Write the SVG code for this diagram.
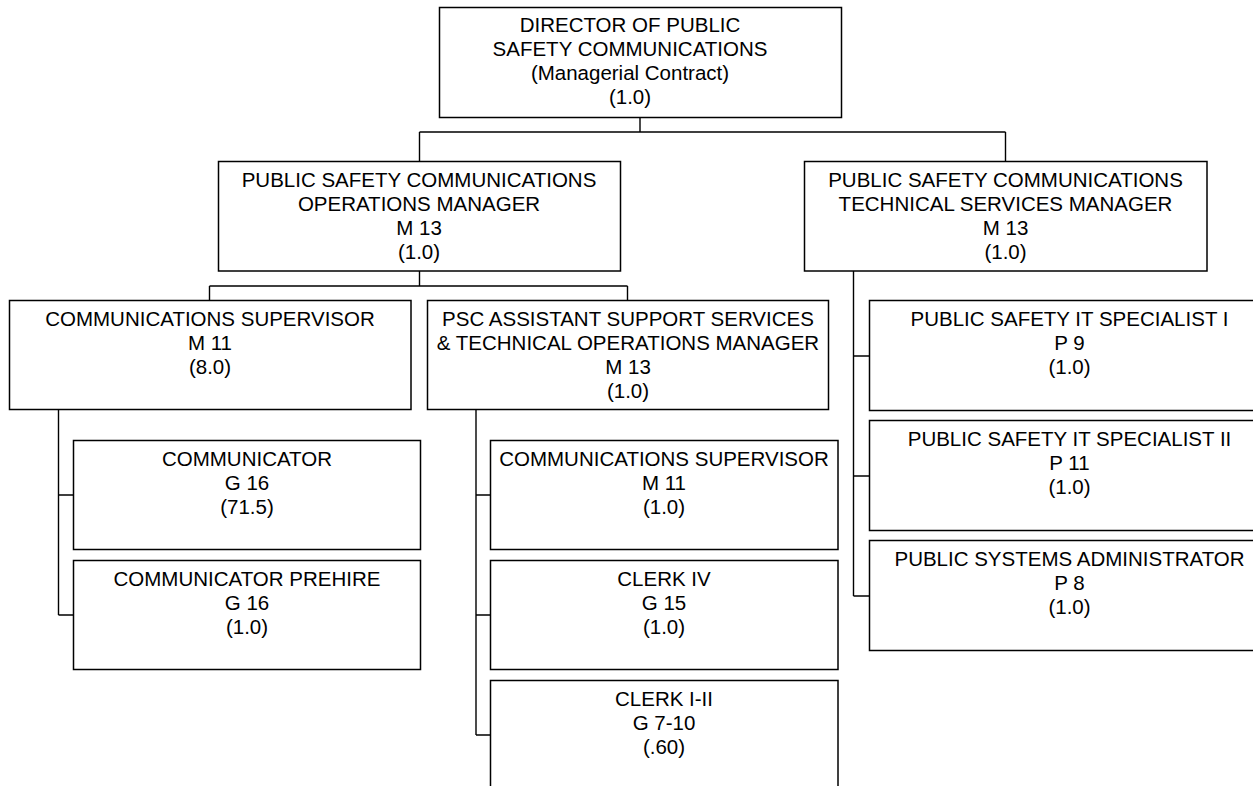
<svg xmlns="http://www.w3.org/2000/svg" width="1253" height="786" viewBox="0 0 1253 786">
<style>
.box{fill:#fff;stroke:#000;stroke-width:1.5}
.ln{fill:none;stroke:#000;stroke-width:1.4}
text{font-family:"Liberation Sans",Arial,sans-serif;font-size:20.5px;fill:#000;text-anchor:middle}
</style>
<rect width="1253" height="786" fill="#fff"/>
<g id="connectors">
<path class="ln" d="M640,117.5V132M419.5,132H1005.5M419.5,132V161.5M1005.5,132V161.5"/>
<path class="ln" d="M419.5,271V286M209.5,286H627.5M209.5,286V300.5M627.5,286V300.5"/>
<path class="ln" d="M853.5,271V596M853.5,356H869.5M853.5,476H869.5M853.5,596H869.5"/>
<path class="ln" d="M58.5,409.5V615M58.5,495H73.5M58.5,615H73.5"/>
<path class="ln" d="M476,409.5V735M476,495H490.5M476,615H490.5M476,735H490.5"/>
</g>
<g id="director">
<rect class="box" x="439.5" y="7.5" width="402" height="110"/>
<text x="630" y="32">DIRECTOR OF PUBLIC</text>
<text x="630" y="56">SAFETY COMMUNICATIONS</text>
<text x="630" y="80">(Managerial Contract)</text>
<text x="630" y="104">(1.0)</text>
</g>
<g id="ops-manager">
<rect class="box" x="218.5" y="161.5" width="402" height="109.5"/>
<text x="419" y="186.5">PUBLIC SAFETY COMMUNICATIONS</text>
<text x="419" y="210.5">OPERATIONS MANAGER</text>
<text x="419" y="234.5">M 13</text>
<text x="419" y="258.5">(1.0)</text>
</g>
<g id="tech-manager">
<rect class="box" x="804.5" y="161.5" width="402.5" height="109.5"/>
<text x="1005.5" y="186.5">PUBLIC SAFETY COMMUNICATIONS</text>
<text x="1005.5" y="210.5">TECHNICAL SERVICES MANAGER</text>
<text x="1005.5" y="234.5">M 13</text>
<text x="1005.5" y="258.5">(1.0)</text>
</g>
<g id="comm-supervisor">
<rect class="box" x="9.5" y="300.5" width="401.5" height="109"/>
<text x="210" y="325.5">COMMUNICATIONS SUPERVISOR</text>
<text x="210" y="349.5">M 11</text>
<text x="210" y="373.5">(8.0)</text>
</g>
<g id="psc-assistant">
<rect class="box" x="427.5" y="300.5" width="401" height="109"/>
<text x="628" y="325.5">PSC ASSISTANT SUPPORT SERVICES</text>
<text x="628" y="349.5">&amp; TECHNICAL OPERATIONS MANAGER</text>
<text x="628" y="373.5">M 13</text>
<text x="628" y="397.5">(1.0)</text>
</g>
<g id="it-specialist-1">
<rect class="box" x="869.5" y="300.5" width="400" height="110"/>
<text x="1069.5" y="325.5">PUBLIC SAFETY IT SPECIALIST I</text>
<text x="1069.5" y="349.5">P 9</text>
<text x="1069.5" y="373.5">(1.0)</text>
</g>
<g id="it-specialist-2">
<rect class="box" x="869.5" y="420.5" width="400" height="110"/>
<text x="1069.5" y="445.5">PUBLIC SAFETY IT SPECIALIST II</text>
<text x="1069.5" y="469.5">P 11</text>
<text x="1069.5" y="493.5">(1.0)</text>
</g>
<g id="systems-admin">
<rect class="box" x="869.5" y="540.5" width="400" height="110"/>
<text x="1069.5" y="565.5">PUBLIC SYSTEMS ADMINISTRATOR</text>
<text x="1069.5" y="589.5">P 8</text>
<text x="1069.5" y="613.5">(1.0)</text>
</g>
<g id="communicator">
<rect class="box" x="73.5" y="440.5" width="347" height="109"/>
<text x="247" y="465.5">COMMUNICATOR</text>
<text x="247" y="489.5">G 16</text>
<text x="247" y="513.5">(71.5)</text>
</g>
<g id="communicator-prehire">
<rect class="box" x="73.5" y="560.5" width="347" height="109"/>
<text x="247" y="585.5">COMMUNICATOR PREHIRE</text>
<text x="247" y="609.5">G 16</text>
<text x="247" y="633.5">(1.0)</text>
</g>
<g id="comm-supervisor-2">
<rect class="box" x="490.5" y="440.5" width="347.5" height="109"/>
<text x="664" y="465.5">COMMUNICATIONS SUPERVISOR</text>
<text x="664" y="489.5">M 11</text>
<text x="664" y="513.5">(1.0)</text>
</g>
<g id="clerk-iv">
<rect class="box" x="490.5" y="560.5" width="347.5" height="109"/>
<text x="664" y="585.5">CLERK IV</text>
<text x="664" y="609.5">G 15</text>
<text x="664" y="633.5">(1.0)</text>
</g>
<g id="clerk-i-ii">
<rect class="box" x="490.5" y="680.5" width="347.5" height="115"/>
<text x="664" y="705.5">CLERK I-II</text>
<text x="664" y="729.5">G 7-10</text>
<text x="664" y="753.5">(.60)</text>
</g>
</svg>
